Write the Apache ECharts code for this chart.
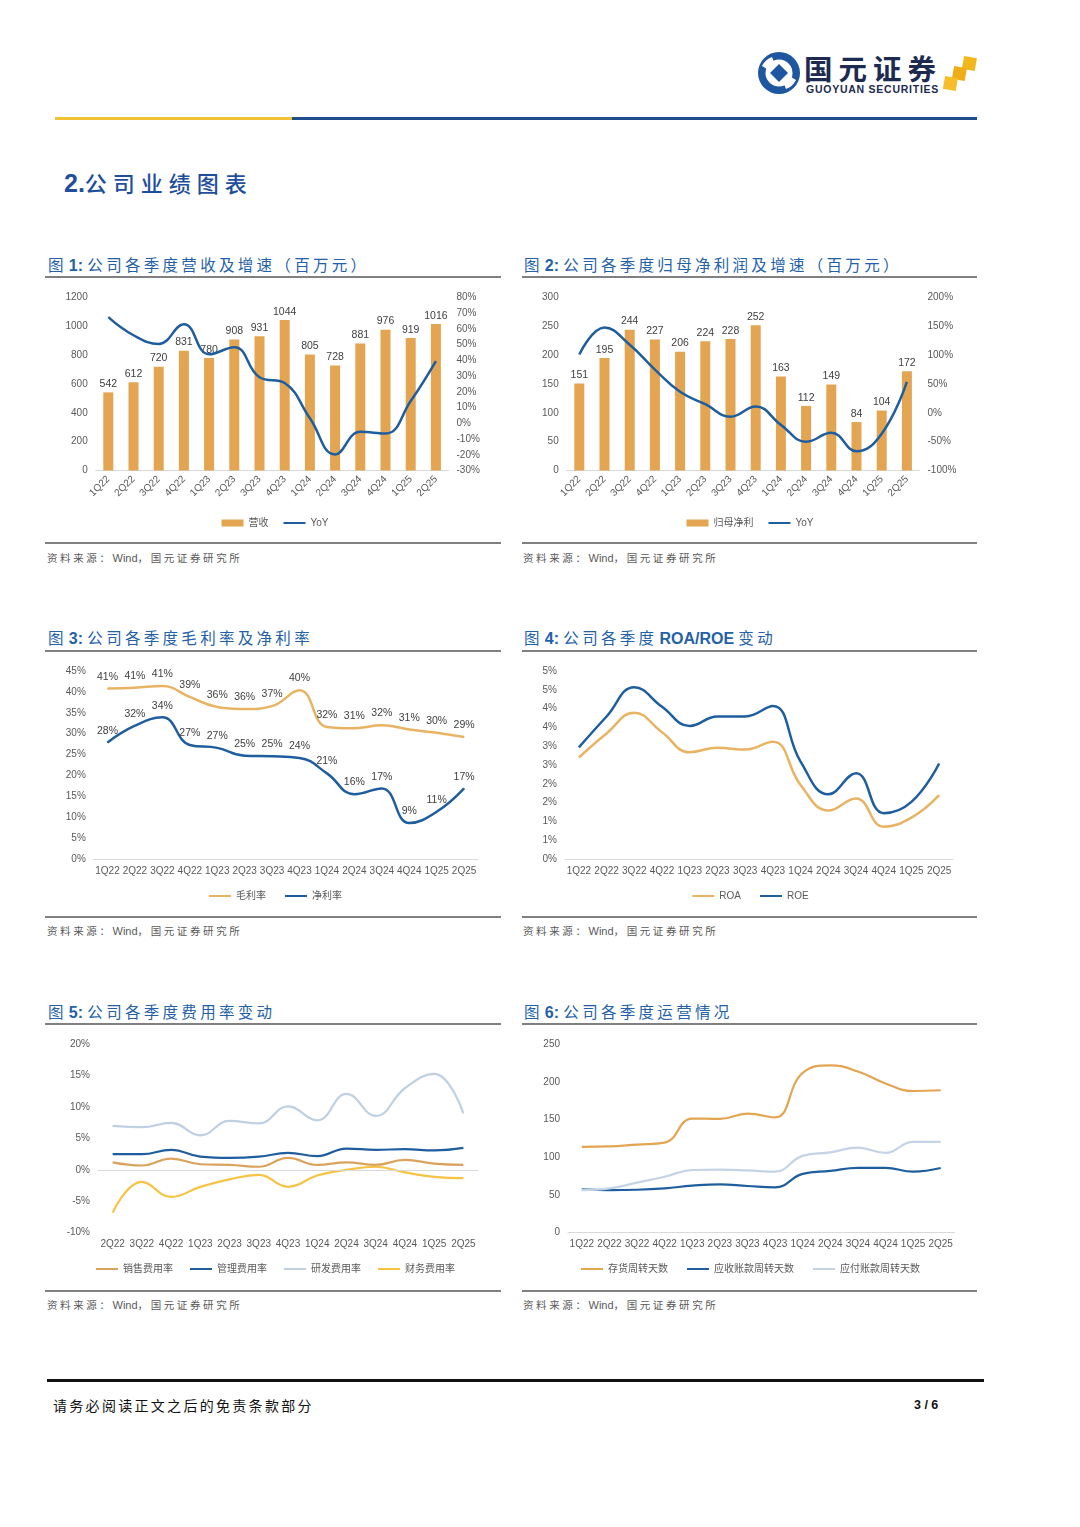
<!DOCTYPE html>
<html>
<head>
<meta charset="utf-8">
<script src="https://cdn.jsdelivr.net/npm/echarts@6/dist/echarts.min.js"></script>
<style>
  html, body { margin:0; padding:0; background:#fff; }
  body { width:1080px; height:1527px; position:relative; overflow:hidden; font-family:'Liberation Sans','Noto Sans CJK SC',sans-serif; }
  .abs { position:absolute; white-space:nowrap; }
  .figtitle { color:#2461A8; font-size:15.5px; height:20px; line-height:20px; }
  .figtitle .cn { font-family:'Noto Sans CJK SC',sans-serif; letter-spacing:3.3px; }
  .figtitle .num { font-family:'Liberation Sans',sans-serif; font-weight:bold; font-size:16px; margin-left:2px; }
  .rule { position:absolute; height:1.5px; background:#808080; }
  .src { color:#595959; font-size:10.5px; height:14px; line-height:14px; font-family:'Noto Sans CJK SC',sans-serif; letter-spacing:2.6px; }
  .src .en { font-family:'Liberation Sans',sans-serif; letter-spacing:0; font-size:11px; }
  .chart { position:absolute; }
</style>
</head>
<body>
<script>
// ---------- DATA ----------
const quarters = ['1Q22','2Q22','3Q22','4Q22','1Q23','2Q23','3Q23','4Q23','1Q24','2Q24','3Q24','4Q24','1Q25','2Q25'];
const quartersFee = ['2Q22','3Q22','4Q22','1Q23','2Q23','3Q23','4Q23','1Q24','2Q24','3Q24','4Q24','1Q25','2Q25'];

const revenue = [542,612,720,831,780,908,931,1044,805,728,881,976,919,1016];
const revenueYoY = [67.5,56,50.5,63,43.9,48.4,29.3,25.6,3.2,-19.8,-5.4,-6.5,14.2,39.6];

const netProfit = [151,195,244,227,206,224,228,252,163,112,149,84,104,172];
const netProfitYoY = [101,148,118,75,36.4,14.9,-6.6,11,-20.9,-50,-34.6,-66.7,-36.2,53.6];

const grossMargin = [40.8,41.0,41.4,38.8,36.4,35.9,36.6,40.4,31.6,31.3,32.0,31.0,30.2,29.2];
const netMargin = [27.9,31.9,33.9,27.3,26.6,24.7,24.6,24.2,20.5,15.5,16.9,8.6,11.3,16.9];

const roa = [2.70,3.34,3.89,3.37,2.84,2.96,2.91,3.12,1.97,1.29,1.61,0.86,1.10,1.70];
const roe = [2.97,3.79,4.57,4.05,3.54,3.79,3.79,4.07,2.59,1.72,2.28,1.22,1.52,2.54];

const salesFeeRate = [1.2,0.7,1.8,0.9,0.8,0.5,1.9,0.8,1.2,0.8,1.6,1.0,0.8];
const adminFeeRate = [2.5,2.5,3.2,2.1,1.9,2.1,2.7,2.2,3.4,3.2,3.3,3.1,3.5];
const rdFeeRate = [7.0,6.8,7.5,5.5,7.8,7.4,10.1,7.9,12.1,8.6,13.0,15.3,9.0];
const finFeeRate = [-6.8,-1.9,-4.3,-2.7,-1.5,-0.8,-2.7,-0.9,0.0,0.5,-0.4,-1.1,-1.3];

const inventoryDays = [114,114.5,117,119.5,151.5,151,158,153,212,222,214,198,188,189];
const receivableDays = [57.5,56.6,57,58.8,62.4,64.2,62,60.2,78,82,86,86,81,85.8];
const payableDays = [56.6,58.8,66.4,74.3,83.2,83.6,82.7,81,102,106.6,113,105.8,120.5,120.4];

const leftTicks1 = { min:0, max:1200, interval:200 };
const rightTicks1 = { min:-30, max:80, interval:10 };
const leftTicks2 = { min:0, max:300, interval:50 };
const rightTicks2 = { min:-100, max:200, interval:50 };
</script>

<!-- header logo -->
<svg class="abs" style="left:0;top:0" width="1080" height="130">
  <circle cx="779" cy="73" r="21" fill="#1E56A0"/>
  <circle cx="779" cy="73" r="13.5" fill="#fff"/>
  <path d="M779 64 L788 73 L779 82 L770 73 Z" fill="#1E56A0"/>
  <path d="M762 66 A18 18 0 0 1 772 57 L774 62 A13 13 0 0 0 767 69 Z" fill="#fff"/>
  <path d="M796 80 A18 18 0 0 1 786 89 L784 84 A13 13 0 0 0 791 77 Z" fill="#fff"/>
  <rect x="963" y="57" width="13" height="13" fill="#F3B71E" transform="rotate(10 969 63)"/>
  <rect x="953" y="67" width="13" height="13" fill="#EFAE17" transform="rotate(10 959 73)"/>
  <rect x="944" y="77" width="13" height="13" fill="#F5BE2A" transform="rotate(10 950 83)"/>
  <rect x="55" y="117" width="237" height="3" fill="#F2C232"/>
  <rect x="292" y="117" width="685" height="3" fill="#1F4E8C"/>
</svg>
<div class="abs" style="left:804px;top:52px;font-family:'Noto Sans CJK SC',sans-serif;font-weight:bold;font-size:28.5px;line-height:32px;color:#1C2B4F;letter-spacing:6px;">国元证券</div>
<div class="abs" style="left:806px;top:83px;font-family:'Liberation Sans',sans-serif;font-weight:bold;font-size:10.5px;line-height:12px;color:#1C2B4F;letter-spacing:0.75px;">GUOYUAN SECURITIES</div>

<!-- section title -->
<div class="abs" style="left:64px;top:167px;height:30px;line-height:30px;color:#1F4E9C;">
  <span style="font-family:'Liberation Sans',sans-serif;font-weight:bold;font-size:25px;">2.</span><span style="font-family:'Noto Sans CJK SC',sans-serif;font-size:22px;letter-spacing:6px;font-weight:500;">公司业绩图表</span>
</div>

<!-- figure titles and rules -->
<div class="abs figtitle" style="left:48px;top:254px;"><span class="cn">图</span><span class="num">1:</span> <span class="cn">公司各季度营收及增速（百万元）</span></div>
<div class="abs figtitle" style="left:524px;top:254px;"><span class="cn">图</span><span class="num">2:</span> <span class="cn">公司各季度归母净利润及增速（百万元）</span></div>
<div class="rule" style="left:45px;top:276px;width:456px;"></div>
<div class="rule" style="left:522px;top:276px;width:455px;"></div>
<div class="rule" style="left:45px;top:542px;width:456px;"></div>
<div class="rule" style="left:522px;top:542px;width:455px;"></div>
<div class="abs src" style="left:47px;top:551px;">资料来源：<span class="en">Wind</span>，国元证券研究所</div>
<div class="abs src" style="left:523px;top:551px;">资料来源：<span class="en">Wind</span>，国元证券研究所</div>

<div class="abs figtitle" style="left:48px;top:627px;"><span class="cn">图</span><span class="num">3:</span> <span class="cn">公司各季度毛利率及净利率</span></div>
<div class="abs figtitle" style="left:524px;top:627px;"><span class="cn">图</span><span class="num">4:</span> <span class="cn">公司各季度</span><span class="num">ROA/ROE</span> <span class="cn">变动</span></div>
<div class="rule" style="left:45px;top:650px;width:456px;"></div>
<div class="rule" style="left:522px;top:650px;width:455px;"></div>
<div class="rule" style="left:45px;top:916px;width:456px;"></div>
<div class="rule" style="left:522px;top:916px;width:455px;"></div>
<div class="abs src" style="left:47px;top:924px;">资料来源：<span class="en">Wind</span>，国元证券研究所</div>
<div class="abs src" style="left:523px;top:924px;">资料来源：<span class="en">Wind</span>，国元证券研究所</div>

<div class="abs figtitle" style="left:48px;top:1001px;"><span class="cn">图</span><span class="num">5:</span> <span class="cn">公司各季度费用率变动</span></div>
<div class="abs figtitle" style="left:524px;top:1001px;"><span class="cn">图</span><span class="num">6:</span> <span class="cn">公司各季度运营情况</span></div>
<div class="rule" style="left:45px;top:1023px;width:456px;"></div>
<div class="rule" style="left:522px;top:1023px;width:455px;"></div>
<div class="rule" style="left:45px;top:1290px;width:456px;"></div>
<div class="rule" style="left:522px;top:1290px;width:455px;"></div>
<div class="abs src" style="left:47px;top:1298px;">资料来源：<span class="en">Wind</span>，国元证券研究所</div>
<div class="abs src" style="left:523px;top:1298px;">资料来源：<span class="en">Wind</span>，国元证券研究所</div>

<!-- footer -->
<div class="abs" style="left:47px;top:1379px;width:937px;height:3px;background:#111;"></div>
<div class="abs" style="left:53px;top:1395px;height:20px;line-height:20px;font-family:'Noto Sans CJK SC',sans-serif;font-size:14px;letter-spacing:2.3px;color:#111;">请务必阅读正文之后的免责条款部分</div>
<div class="abs" style="left:914px;top:1396px;height:18px;line-height:18px;font-family:'Liberation Sans',sans-serif;font-weight:bold;font-size:12.5px;color:#111;">3 / 6</div>

<!-- chart containers -->
<div id="c1" class="chart" style="left:45px;top:285px;width:460px;height:250px;"></div>
<div id="c2" class="chart" style="left:520px;top:285px;width:460px;height:250px;"></div>
<div id="c3" class="chart" style="left:45px;top:655px;width:460px;height:255px;"></div>
<div id="c4" class="chart" style="left:520px;top:655px;width:460px;height:255px;"></div>
<div id="c5" class="chart" style="left:45px;top:1030px;width:460px;height:255px;"></div>
<div id="c6" class="chart" style="left:520px;top:1030px;width:460px;height:255px;"></div>

<script>
const FONT = "'Liberation Sans','Noto Sans CJK SC',sans-serif";
const C_BAR = '#E3A552';
const C_BLUE = '#1F5E9E';
const C_GOLD = '#E8B464';
const C_LIGHT = '#BFD0E2';
const C_YELLOW = '#F6C343';
const C_SALES = '#D9A35E';
const AXIS_LABEL = { color:'#595959', fontSize:10, fontFamily:FONT };
const AXIS_LINE = { lineStyle:{ color:'#D9D9D9', width:1 } };

function legendCfg(top, gap, names) {
  return { top: top, left:'center', itemWidth:22, itemHeight:7, itemGap: gap,
           textStyle:{ color:'#595959', fontSize:10, fontFamily:FONT },
           data: names.map(n => typeof n === 'string' ? { name:n, itemStyle:{ opacity:0 } } : n) };
}
function catAxis(data, rotate, margin) {
  return { type:'category', data:data, boundaryGap:true,
           axisLine:AXIS_LINE, axisTick:{show:false},
           axisLabel:Object.assign({ rotate:rotate, margin:margin, interval:0 }, AXIS_LABEL) };
}
function valAxis(t, fmt, pos) {
  return { type:'value', min:t.min, max:t.max, interval:t.interval, position:pos||'left',
           splitLine:{show:false}, axisLine:{show:false}, axisTick:{show:false},
           axisLabel:Object.assign({ formatter:fmt, margin:8 }, AXIS_LABEL) };
}
function lineSeries(name, data, color, width, extra) {
  return Object.assign({ name:name, type:'line', data:data, smooth:0.45, symbol:'none',
           lineStyle:{ color:color, width:width }, itemStyle:{ color:color } }, extra||{});
}
const pctFmt = v => v + '%';
const plainFmt = v => String(v);

// Chart 1
echarts.init(document.getElementById('c1')).setOption({
  animation:false, textStyle:{fontFamily:FONT},
  grid:{ left:50.7, right:56.5, top:12.5, bottom:64.5 },
  legend: legendCfg(228, 14, [{name:'营收', icon:'rect'}, 'YoY']),
  xAxis: catAxis(quarters, 45, 7),
  yAxis: [ valAxis(leftTicks1, plainFmt), valAxis(rightTicks1, pctFmt, 'right') ],
  series: [
    { name:'营收', type:'bar', data:revenue, barWidth:10, itemStyle:{color:C_BAR},
      label:{ show:true, position:'top', distance:3, color:'#404040', fontSize:10.5, fontFamily:FONT } },
    lineSeries('YoY', revenueYoY, C_BLUE, 2.5, { yAxisIndex:1 })
  ]
});

// Chart 2
echarts.init(document.getElementById('c2')).setOption({
  animation:false, textStyle:{fontFamily:FONT},
  grid:{ left:46.7, right:60.5, top:12.5, bottom:64.5 },
  legend: legendCfg(228, 14, [{name:'归母净利', icon:'rect'}, 'YoY']),
  xAxis: catAxis(quarters, 45, 7),
  yAxis: [ valAxis(leftTicks2, plainFmt), valAxis(rightTicks2, pctFmt, 'right') ],
  series: [
    { name:'归母净利', type:'bar', data:netProfit, barWidth:10, itemStyle:{color:C_BAR},
      label:{ show:true, position:'top', distance:3, color:'#404040', fontSize:10.5, fontFamily:FONT } },
    lineSeries('YoY', netProfitYoY, C_BLUE, 2.5, { yAxisIndex:1 })
  ]
});

// Chart 3
const roundPct = p => Math.round(p.value) + '%';
const lbl3 = { show:true, position:'top', distance:6, formatter:roundPct, color:'#404040', fontSize:10.5, fontFamily:FONT };
echarts.init(document.getElementById('c3')).setOption({
  animation:false, textStyle:{fontFamily:FONT},
  grid:{ left:48.8, right:27.2, top:16, bottom:51 },
  legend: legendCfg(231, 18, ['毛利率','净利率']),
  xAxis: catAxis(quarters, 0, 7),
  yAxis: valAxis({min:0,max:45,interval:5}, pctFmt),
  series: [
    lineSeries('毛利率', grossMargin, C_GOLD, 2.5, { symbol:'circle', symbolSize:1, showSymbol:true, label:lbl3 }),
    lineSeries('净利率', netMargin, C_BLUE, 2.5, { symbol:'circle', symbolSize:1, showSymbol:true, label:lbl3 })
  ]
});

// Chart 4
echarts.init(document.getElementById('c4')).setOption({
  animation:false, textStyle:{fontFamily:FONT},
  grid:{ left:45, right:27, top:16, bottom:51 },
  legend: legendCfg(231, 18, ['ROA','ROE']),
  xAxis: catAxis(quarters, 0, 7),
  yAxis: valAxis({min:0,max:5,interval:0.5}, v => Math.round(v) + '%'),
  series: [
    lineSeries('ROA', roa, C_GOLD, 2.5),
    lineSeries('ROE', roe, C_BLUE, 2.5)
  ]
});

// Chart 5
const x5 = catAxis(quartersFee, 0, 7);
x5.axisLine = { show:false, onZero:false };
echarts.init(document.getElementById('c5')).setOption({
  animation:false, textStyle:{fontFamily:FONT},
  grid:{ left:53, right:27, top:14.3, bottom:52.3 },
  legend: legendCfg(229, 16, ['销售费用率','管理费用率','研发费用率','财务费用率']),
  xAxis: x5,
  yAxis: valAxis({min:-10,max:20,interval:5}, pctFmt),
  series: [
    lineSeries('销售费用率', salesFeeRate, C_SALES, 2.2, {
      markLine:{ silent:true, symbol:'none', label:{show:false}, animation:false,
                 lineStyle:{ color:'#D9D9D9', type:'solid', width:1 }, data:[{ yAxis:0 }] } }),
    lineSeries('管理费用率', adminFeeRate, C_BLUE, 2.2),
    lineSeries('研发费用率', rdFeeRate, C_LIGHT, 2.2),
    lineSeries('财务费用率', finFeeRate, C_YELLOW, 2.2)
  ]
});

// Chart 6
echarts.init(document.getElementById('c6')).setOption({
  animation:false, textStyle:{fontFamily:FONT},
  grid:{ left:48, right:25.5, top:14.3, bottom:52.3 },
  legend: legendCfg(229, 18, ['存货周转天数','应收账款周转天数','应付账款周转天数']),
  xAxis: catAxis(quarters, 0, 7),
  yAxis: valAxis({min:0,max:250,interval:50}, plainFmt),
  series: [
    lineSeries('存货周转天数', inventoryDays, C_BAR, 2.2),
    lineSeries('应收账款周转天数', receivableDays, C_BLUE, 2.2),
    lineSeries('应付账款周转天数', payableDays, '#C4D4E6', 2.2)
  ]
});
</script>
</body>
</html>
